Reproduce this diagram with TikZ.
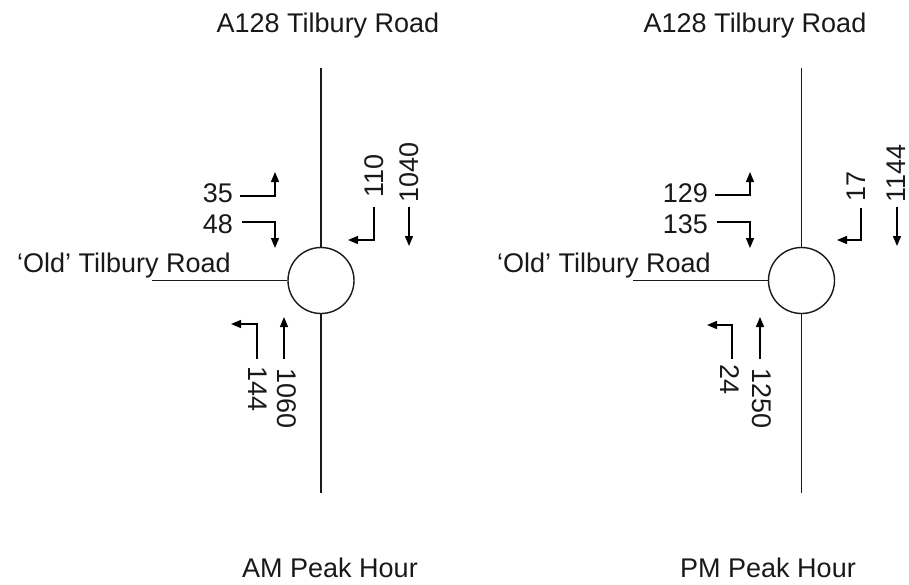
\documentclass[tikz,border=0pt]{standalone}
\usepackage{fontspec}
\setmainfont{Liberation Sans}
\usetikzlibrary{arrows.meta}
\begin{document}
\begin{tikzpicture}[x=1pt,y=-1pt,
  road/.style={line width=1.4pt,draw=black!90},
  flow/.style={line width=1.4pt,-{Triangle[length=10pt,width=8pt]}},
  lbl/.style={font=\fontsize{27}{31}\selectfont,inner sep=0pt,text=black!90},
  rab/.style={circle,draw=black!90,line width=1.4pt,minimum size=66pt,inner sep=0pt}]
\useasboundingbox (0,0) rectangle (909,584);
% ---------- AM ----------
\node[rab] (rA) at (321,280.5) {};
\coordinate (nA) at (321,68);
\coordinate (sA) at (321,493);
\coordinate (wA) at (152,280.5);
\draw[road] (nA) -- (rA.north);
\draw[road] (rA.south) -- (sA);
\draw[road] (wA) -- (rA.west);
\node[lbl,anchor=base] (tA) at (328,32) {A128 Tilbury Road};
\node[lbl,anchor=base west] (oA) at (17,272) {‘Old’ Tilbury Road};
\node[lbl,anchor=base] (bA) at (330,577) {AM Peak Hour};
\node[lbl,anchor=base east] (n35) at (233,202) {35};
\node[lbl,anchor=base east] (n48) at (233,233) {48};
\node[lbl,anchor=base west,rotate=90] (n110) at (383,198) {110};
\node[lbl,anchor=base west,rotate=90] (n1040) at (418,203) {1040};
\node[lbl,anchor=base west,rotate=-90] (n144) at (248,366) {144};
\node[lbl,anchor=base west,rotate=-90] (n1060) at (277,368) {1060};
\coordinate (a35s) at (240,196); \coordinate (a35c) at (275,196); \coordinate (a35e) at (275,172);
\coordinate (a48s) at (242,222); \coordinate (a48c) at (275,222); \coordinate (a48e) at (275,248);
\coordinate (a110s) at (374,207); \coordinate (a110c) at (374,240); \coordinate (a110e) at (348,240);
\coordinate (a1040s) at (409,207); \coordinate (a1040e) at (409,246);
\coordinate (a144s) at (257,359); \coordinate (a144c) at (257,324); \coordinate (a144e) at (231,324);
\coordinate (a1060s) at (284,359); \coordinate (a1060e) at (284,317);
\draw[flow] (a35s) -- (a35c) -- (a35e);
\draw[flow] (a48s) -- (a48c) -- (a48e);
\draw[flow] (a110s) -- (a110c) -- (a110e);
\draw[flow] (a1040s) -- (a1040e);
\draw[flow] (a144s) -- (a144c) -- (a144e);
\draw[flow] (a1060s) -- (a1060e);
% ---------- PM ----------
\node[rab] (rB) at (801.5,280.5) {};
\coordinate (nB) at (801.5,68);
\coordinate (sB) at (801.5,493);
\coordinate (wB) at (633,280.5);
\draw[road] (nB) -- (rB.north);
\draw[road] (rB.south) -- (sB);
\draw[road] (wB) -- (rB.west);
\node[lbl,anchor=base] (tB) at (755,32) {A128 Tilbury Road};
\node[lbl,anchor=base west] (oB) at (497,272) {‘Old’ Tilbury Road};
\node[lbl,anchor=base] (bB) at (768,577) {PM Peak Hour};
\node[lbl,anchor=base east] (n129) at (708,202) {129};
\node[lbl,anchor=base east] (n135) at (708,233) {135};
\node[lbl,anchor=base west,rotate=90] (n17) at (865,202) {17};
\node[lbl,anchor=base west,rotate=90] (n1144) at (905,203) {1144};
\node[lbl,anchor=base west,rotate=-90] (n24) at (720,364) {24};
\node[lbl,anchor=base west,rotate=-90] (n1250) at (752,368) {1250};
\coordinate (b129s) at (715,195); \coordinate (b129c) at (750,195); \coordinate (b129e) at (750,172);
\coordinate (b135s) at (717,222); \coordinate (b135c) at (750,222); \coordinate (b135e) at (750,248);
\coordinate (b17s) at (861,208); \coordinate (b17c) at (861,240); \coordinate (b17e) at (837,240);
\coordinate (b1144s) at (897,207); \coordinate (b1144e) at (897,246);
\coordinate (b24s) at (732,359); \coordinate (b24c) at (732,325); \coordinate (b24e) at (707,325);
\coordinate (b1250s) at (760,359); \coordinate (b1250e) at (760,317);
\draw[flow] (b129s) -- (b129c) -- (b129e);
\draw[flow] (b135s) -- (b135c) -- (b135e);
\draw[flow] (b17s) -- (b17c) -- (b17e);
\draw[flow] (b1144s) -- (b1144e);
\draw[flow] (b24s) -- (b24c) -- (b24e);
\draw[flow] (b1250s) -- (b1250e);
\end{tikzpicture}
\end{document}
